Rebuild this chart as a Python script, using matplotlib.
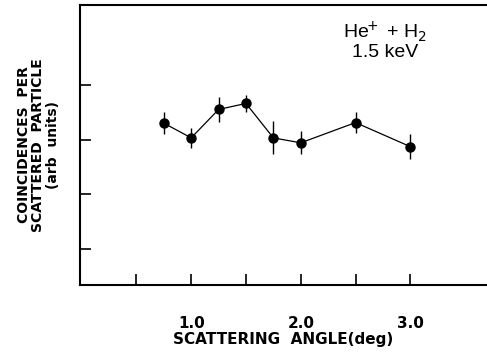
import matplotlib
matplotlib.use('Agg')
import matplotlib.pyplot as plt

# Data
angle_deg = [0.75, 1.0, 1.25, 1.5, 1.75, 2.0, 2.5, 3.0]
coinc = [3.30, 3.03, 3.55, 3.66, 3.03, 2.94, 3.31, 2.87]
coinc_err = [0.20, 0.19, 0.23, 0.15, 0.30, 0.21, 0.19, 0.23]

x_ticks = [0.5, 1.0, 1.5, 2.0, 2.5, 3.0]
x_ticklabels = ['', '1.0', '', '2.0', '', '3.0']
y_ticks = [1, 2, 3, 4]

plt.rcParams['font.family'] = ['DejaVu Sans']

fig = plt.figure(figsize=(4.87, 3.52), dpi=100)
ax = fig.add_axes([80 / 487, 67 / 352, 407 / 487, 280 / 352])

ax.errorbar(angle_deg, coinc, yerr=coinc_err, fmt='o-', color='black',
            ms=6.5, lw=0.9, elinewidth=1.0, capsize=0)

ax.set_xlim(-0.015, 3.70)
ax.set_ylim(0.34, 5.46)
ax.set_xticks(x_ticks)
ax.set_xticklabels(x_ticklabels, fontsize=11, fontweight='bold')
ax.set_yticks(y_ticks)
ax.set_yticklabels([])
ax.tick_params(direction='in', length=8, width=1.2)
ax.tick_params(axis='x', pad=22)

for side in ['left', 'bottom', 'top']:
    ax.spines[side].set_linewidth(1.5)
ax.spines['right'].set_visible(False)

ax.set_xlabel('SCATTERING  ANGLE(deg)', fontsize=11, fontweight='bold', labelpad=1)
ax.set_ylabel('COINCIDENCES  PER\nSCATTERED  PARTICLE\n(arb  units)',
              fontsize=10, fontweight='bold', labelpad=11, linespacing=1.05)

ax.text(0.75, 0.95, 'He$^{\\!\\!+}$ + H$_2$\n1.5 keV', transform=ax.transAxes,
        ha='center', va='top', fontsize=14, linespacing=1.05,
        family=['Liberation Sans', 'DejaVu Sans'])

fig.savefig('out.png', dpi=100)
